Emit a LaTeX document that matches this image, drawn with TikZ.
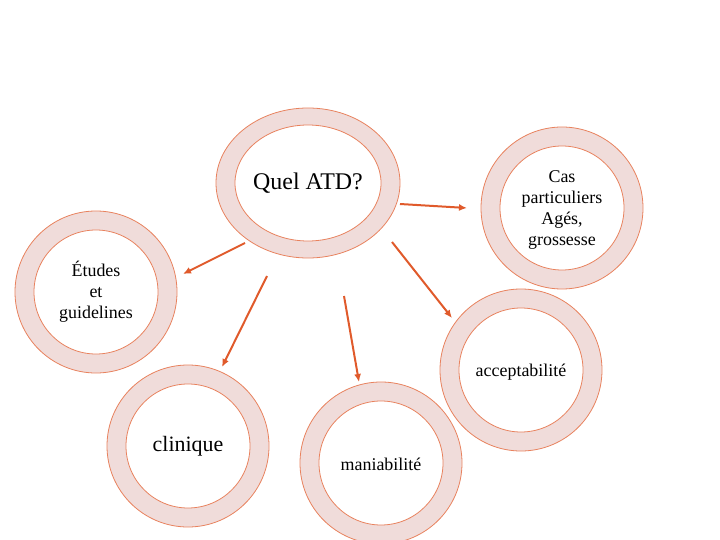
\documentclass[tikz,border=0pt]{standalone}
\usepackage{fontspec}
\usetikzlibrary{arrows.meta}
\setmainfont{Liberation Serif}
\definecolor{ringfill}{HTML}{F0DCDA}
\definecolor{ringline}{HTML}{E8825E}
\definecolor{arr}{HTML}{E05A2B}
\begin{document}
\begin{tikzpicture}[x=1bp,y=-1bp,
  outer/.style={draw=ringline,fill=ringfill,line width=0.8bp},
  inner/.style={draw=ringline,fill=white,line width=0.8bp},
  lab/.style={align=center,font=\fontsize{18}{21}\selectfont},
  conn/.style={draw=arr,line width=2bp,-{Latex[length=8bp,width=7bp]}}]
\useasboundingbox (0,0) rectangle (720,540);
% center
\fill[outer] (308,183) ellipse [x radius=92, y radius=75];
\fill[inner] (308,183) ellipse [x radius=73, y radius=58];
\node[lab,font=\fontsize{24}{28}\selectfont] (q) at (308,183) {Quel ATD?};
% cas
\fill[outer] (562,208) circle [radius=81];
\fill[inner] (562,208) circle [radius=62];
\node[lab] (cas) at (562,210) {Cas\\particuliers\\Agés,\\grossesse};
% etudes
\fill[outer] (96,292) circle [radius=81];
\fill[inner] (96,292) circle [radius=62];
\node[lab] (et) at (96,292) {Études\\ et\\guidelines};
% clinique
\fill[outer] (188,446) circle [radius=81];
\fill[inner] (188,446) circle [radius=62];
\node[lab,font=\fontsize{22}{26}\selectfont] (cl) at (188,446) {clinique};
% maniabilite
\fill[outer] (381,463) circle [radius=81];
\fill[inner] (381,463) circle [radius=62];
\node[lab] (ma) at (381,464) {maniabilité};
% acceptabilite
\fill[outer] (521,370) circle [radius=81];
\fill[inner] (521,370) circle [radius=62];
\node[lab] (ac) at (521,372) {acceptabilité};
% arrows
\coordinate (s1) at (400,204); \coordinate (e1) at (467,208);
\coordinate (s2) at (245,243); \coordinate (e2) at (183,274);
\coordinate (s3) at (267,276); \coordinate (e3) at (222,367);
\coordinate (s4) at (344,296); \coordinate (e4) at (359,382);
\coordinate (s5) at (392,242); \coordinate (e5) at (452,318);
\draw[conn] (s1) -- (e1);
\draw[conn] (s2) -- (e2);
\draw[conn] (s3) -- (e3);
\draw[conn] (s4) -- (e4);
\draw[conn] (s5) -- (e5);
\end{tikzpicture}
\end{document}
